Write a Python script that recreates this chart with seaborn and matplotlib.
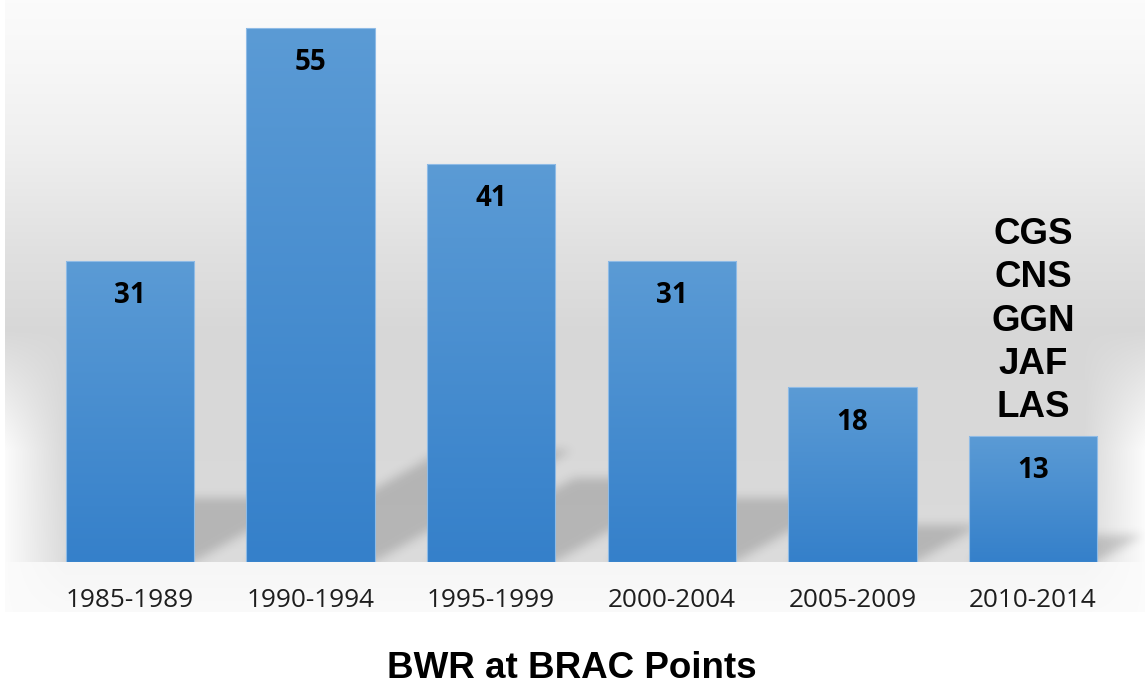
import numpy as np
import pandas as pd
import seaborn as sns
import matplotlib.pyplot as plt
from matplotlib.colors import LinearSegmentedColormap

# data
periods = ["1985-1989", "1990-1994", "1995-1999", "2000-2004", "2005-2009", "2010-2014"]
counts = [31, 55, 41, 31, 18, 13]
note_text = "CGS\nCNS\nGGN\nJAF\nLAS"
title = "BWR at BRAC Points"

df = pd.DataFrame({"period": periods, "count": counts})

W, H = 1145, 687
fig = plt.figure(figsize=(W / 100, H / 100), dpi=100)
fig.patch.set_facecolor("white")

# background panel (gray gradient + light floor strip)
pan_l, pan_w, pan_h, base_px = 5, 1140, 612, 562
bg_ax = fig.add_axes([pan_l / W, 1 - pan_h / H, pan_w / W, pan_h / H])
rows = np.arange(pan_h)
stops_y = [0, 60, 150, 250, 330, 450, 562]
stops_v = [0.985, 0.97, 0.935, 0.88, 0.845, 0.85, 0.86]
prof = np.interp(rows, stops_y, stops_v)
prof[rows >= base_px] = np.interp(rows[rows >= base_px], [base_px, pan_h], [0.965, 0.98])
cols = np.arange(pan_w)
edge = np.clip(1 - np.minimum(cols, pan_w - 1 - cols) / 60.0, 0, 1)
vy = np.clip((rows - 330) / 120.0, 0, 1)
blend = vy[:, None] * edge[None, :]
bg = prof[:, None] * (1 - blend) + 0.985 * blend
bg_ax.imshow(np.dstack([bg] * 3), aspect="auto", interpolation="bilinear")
bg_ax.set_axis_off()

# main axes, y=0 at the bar baseline
ax = fig.add_axes([pan_l / W, 1 - base_px / H, pan_w / W, base_px / H])
ax.set_facecolor("none")
sns.barplot(data=df, x="period", y="count", color="#5b9bd5", saturation=1,
            width=0.71, ax=ax, zorder=3)

xlim = (-0.692, 5.62)
ylim = (0, 57.9)
px_x = pan_w / (xlim[1] - xlim[0])
px_y = base_px / (ylim[1] - ylim[0])

# soft cast shadows behind bars
nx, ny = pan_w, base_px
gx = np.linspace(xlim[0], xlim[1], nx)
gy = np.linspace(ylim[1], ylim[0], ny)
XX, YY = np.meshgrid(gx, gy)
mask = np.zeros_like(XX)
for p in ax.patches:
    L, R, h = p.get_x(), p.get_x() + p.get_width(), p.get_height()
    sh_h = 0.21 * h
    sh_dx = 0.37 * h * px_y / px_x
    t = np.clip(YY / sh_h, 0, 1)
    inside = (YY >= 0) & (YY <= sh_h) & (XX >= L + t * sh_dx) & (XX <= R + t * sh_dx)
    mask = np.maximum(mask, inside.astype(float))
k = np.arange(-14, 15)
kern = np.exp(-k ** 2 / (2 * 5.0 ** 2))
kern /= kern.sum()
mask = np.apply_along_axis(lambda r: np.convolve(r, kern, mode="same"), 1, mask)
mask = np.apply_along_axis(lambda c: np.convolve(c, kern, mode="same"), 0, mask)
shadow = np.zeros((ny, nx, 4))
shadow[..., 3] = mask * 0.17
ax.imshow(shadow, extent=(xlim[0], xlim[1], ylim[0], ylim[1]), aspect="auto",
          zorder=1, interpolation="bilinear")

# gradient fill on each bar
bar_cmap = LinearSegmentedColormap.from_list("bar", ["#3580ca", "#5b9bd5"])
grad = np.linspace(1, 0, 256)[:, None]
for p in ax.patches:
    x0, w, h = p.get_x(), p.get_width(), p.get_height()
    im = ax.imshow(grad, cmap=bar_cmap, vmin=0, vmax=1, extent=(x0, x0 + w, 0, h),
                   aspect="auto", zorder=2.5, interpolation="bilinear")
    im.set_clip_path(p)
    p.set_facecolor("none")
    p.set_edgecolor("#8fbbe6")
    p.set_linewidth(0.8)

# value labels inside bars
for p, v in zip(ax.patches, counts):
    ax.annotate(str(v), xy=(p.get_x() + p.get_width() / 2, v), xytext=(0, -25),
                textcoords="offset points", ha="center", va="center",
                fontsize=20, fontweight="bold", family="Open Sans", color="black",
                zorder=5)

# note above the last bar
last = ax.patches[-1]
ax.annotate(note_text, xy=(last.get_x() + last.get_width() / 2, counts[-1]),
            xytext=(0, 8), textcoords="offset points", ha="center", va="bottom",
            multialignment="center", linespacing=1.3, fontsize=26.5,
            fontweight="bold", family="Liberation Sans", color="black", zorder=5)

ax.set_xlim(*xlim)
ax.set_ylim(*ylim)
ax.set_xlabel("")
ax.set_ylabel("")
ax.set_yticks([])
for s in ax.spines.values():
    s.set_visible(False)
ax.tick_params(axis="x", length=0, pad=19)
for lab in ax.get_xticklabels():
    lab.set_fontfamily("Open Sans")
    lab.set_fontsize(18.8)
    lab.set_color("#1e1e1e")

fig.text(0.499, 1 - 668 / H, title, ha="center", va="center", fontsize=26.5,
         fontweight="bold", family="Liberation Sans", color="black")

fig.savefig("out.png", dpi=100)
